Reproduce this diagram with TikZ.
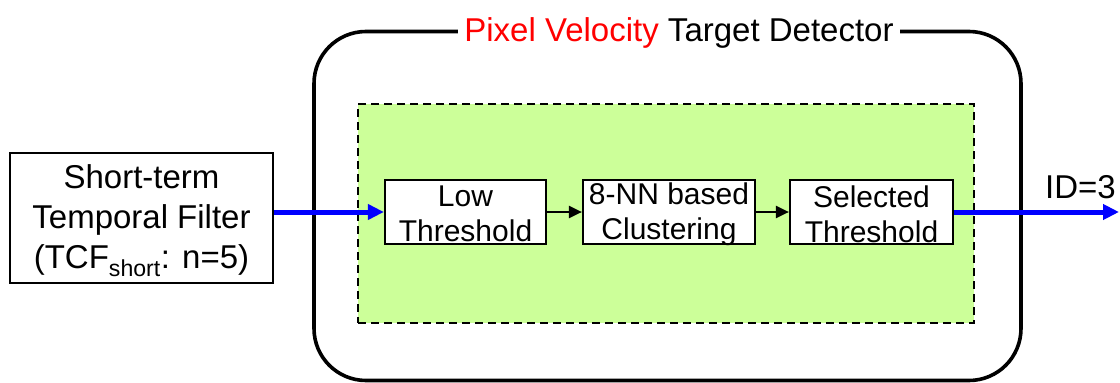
\documentclass[tikz,border=0pt]{standalone}
\usepackage{fontspec}
\setmainfont{Liberation Sans}
\usetikzlibrary{arrows.meta}
\definecolor{panelgreen}{HTML}{CCFF99}
\definecolor{flowblue}{HTML}{0000FF}
\definecolor{titlered}{HTML}{FF0000}
\begin{document}
\begin{tikzpicture}[x=1pt,y=-1pt,
  bigtext/.style={font=\fontsize{33}{40}\selectfont},
  smalltext/.style={font=\fontsize{30}{35}\selectfont},
  srcbox/.style={draw=black, line width=2.2pt, fill=white, inner sep=0pt,
    align=center, minimum width=263pt, minimum height=130pt, bigtext},
  stagebox/.style={draw=black, line width=2.2pt, fill=white, inner sep=0pt,
    align=center, minimum height=64pt, smalltext},
  frame/.style={draw=black, line width=3.6pt, rounded corners=52pt, inner sep=0pt},
  panel/.style={draw=black, fill=panelgreen, line width=2.8pt,
    dash pattern=on 8pt off 5pt, inner sep=0pt},
  bluearrow/.style={draw=flowblue, line width=5pt,
    -{Triangle[length=16pt,width=15pt]}},
  blackarrow/.style={draw=black, line width=2.2pt,
    -{Triangle[length=13pt,width=12pt]}},
]
\useasboundingbox (0,0) rectangle (1120,383);

% detector frame and processing panel
\node[frame, minimum width=707pt, minimum height=349pt] (frame) at (667.5,206) {};
\node[fill=white, inner xsep=6pt, inner ysep=2pt, anchor=base, bigtext] (title) at (679,41)
  {\textcolor{titlered}{Pixel Velocity} Target Detector};
\node[panel, minimum width=616pt, minimum height=219pt] (panel) at (666,213.5) {};

% input filter
\node[srcbox] (src) at (141.5,218) {};
\node[bigtext, align=center, inner sep=0pt] (srctext) at (141.5,221)
  {Short-term\\Temporal Filter\\(TCF\textsubscript{short}: n=5)};

% processing stages
\node[stagebox, minimum width=161pt] (low) at (465.5,212) {};
\node[stagebox, minimum width=172pt] (clu) at (669,212) {};
\node[stagebox, minimum width=163pt] (sel) at (871.5,212) {};
\node[smalltext, align=center, inner sep=0pt] (lowtext) at (465.5,214) {Low\\Threshold};
\node[smalltext, align=center, inner sep=0pt] (clutext) at (669,214) {8-NN based\\Clustering};
\node[smalltext, align=center, inner sep=0pt] (seltext) at (871.5,214) {Selected\\Threshold};

% output
\node[anchor=base east, bigtext, inner sep=0pt] (id) at (1116,198) {ID=3};
\coordinate (out) at (1119,212);

% connectors
\draw[bluearrow] (src.east |- low.west) -- (low.west);
\draw[blackarrow] (low.east) -- (clu.west);
\draw[blackarrow] (clu.east) -- (sel.west);
\draw[bluearrow] (sel.east) -- (out);
\end{tikzpicture}
\end{document}
